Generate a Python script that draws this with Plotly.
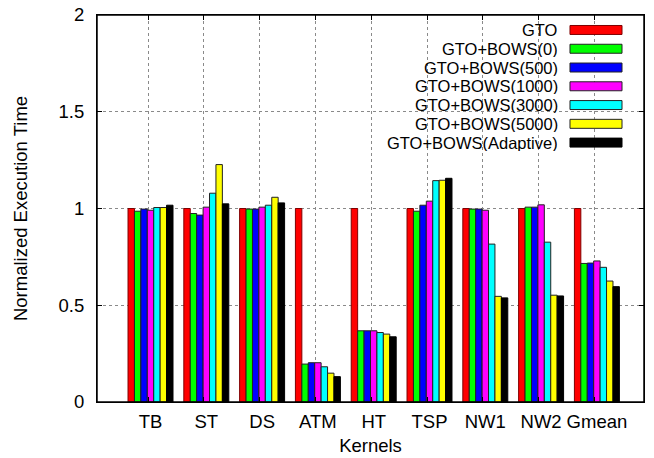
import plotly.graph_objects as go

# Datos
kernels = ['TB', 'ST', 'DS', 'ATM', 'HT', 'TSP', 'NW1', 'NW2', 'Gmean']
series = ['GTO', 'GTO+BOWS(0)', 'GTO+BOWS(500)', 'GTO+BOWS(1000)',
          'GTO+BOWS(3000)', 'GTO+BOWS(5000)', 'GTO+BOWS(Adaptive)']

gto = [1.0, 1.0, 1.0, 1.0, 1.0, 1.0, 1.0, 1.0, 1.0]
bows_0 = [0.986, 0.974, 0.997, 0.196, 0.368, 0.986, 0.997, 1.007, 0.716]
bows_500 = [0.997, 0.966, 0.997, 0.203, 0.368, 1.017, 0.997, 1.007, 0.718]
bows_1000 = [0.991, 1.007, 1.007, 0.203, 0.368, 1.038, 0.991, 1.019, 0.729]
bows_3000 = [1.005, 1.079, 1.017, 0.182, 0.359, 1.144, 0.816, 0.826, 0.696]
bows_5000 = [1.005, 1.227, 1.058, 0.149, 0.351, 1.146, 0.546, 0.552, 0.625]
bows_adapt = [1.017, 1.024, 1.029, 0.131, 0.337, 1.156, 0.538, 0.548, 0.596]

valores = [gto, bows_0, bows_500, bows_1000, bows_3000, bows_5000, bows_adapt]
colores = ['#ff0000', '#00ff00', '#0000ff', '#ff00ff', '#00ffff', '#ffff00', '#000000']
bordes = ['#7f0000', '#222222', '#222222', '#222222', '#222222', '#222222', '#000000']

FUENTE = 'Liberation Sans, Arial, sans-serif'
TAM = 18.5

fig = go.Figure()

x_pos = list(range(len(kernels)))
for nombre, vals, color, borde in zip(series, valores, colores, bordes):
    fig.add_trace(go.Bar(
        x=x_pos,
        y=vals,
        name=nombre,
        marker=dict(color=color, line=dict(color=borde, width=1)),
        showlegend=False
    ))

# Leyenda manual (texto a la izquierda, muestra a la derecha, como gnuplot)
x_txt = 0.8446
x0_sw, x1_sw = 0.8647, 0.9598
y_top = 0.9613
paso = 0.0485
alto = 0.0232

shapes = [
    dict(type='rect', xref='paper', yref='paper',
         x0=0.477, x1=0.983, y0=0.6465, y1=0.987,
         fillcolor='white', line=dict(width=0), layer='between'),
    # marco completo del área de dibujo
    dict(type='rect', xref='paper', yref='paper', x0=0, x1=1, y0=0, y1=1,
         line=dict(color='black', width=1.5), layer='above'),
]
anots = []
for k, (nombre, color, borde) in enumerate(zip(series, colores, bordes)):
    yc = y_top - k * paso
    shapes.append(dict(type='rect', xref='paper', yref='paper',
                       x0=x0_sw, x1=x1_sw, y0=yc - alto / 2, y1=yc + alto / 2,
                       fillcolor=color, line=dict(color=borde, width=1), layer='above'))
    anots.append(dict(x=x_txt, y=yc, xref='paper', yref='paper', text=nombre,
                      showarrow=False, xanchor='right', yanchor='middle',
                      height=16, valign='middle', borderpad=0,
                      font=dict(size=16.5, color='black', family=FUENTE)))

fig.update_layout(
    width=654,
    height=458,
    margin=dict(l=97, r=10, t=15, b=56),
    paper_bgcolor='white',
    plot_bgcolor='white',
    barmode='group',
    bargap=0.194,
    bargroupgap=0,
    font=dict(family=FUENTE, size=TAM, color='black'),
    shapes=shapes,
    annotations=anots,
    xaxis=dict(
        range=[-0.959, 8.844],
        automargin=False,
        tickmode='array',
        tickvals=x_pos,
        ticktext=kernels,
        ticks='',
        ticklabelstandoff=3,
        showgrid=False,
        showline=True,
        linecolor='black',
        linewidth=1,
        mirror='allticks',
        zeroline=False,
        minor=dict(tick0=-0.045, dtick=1, showgrid=True, gridcolor='#8a8a8a',
                   griddash='dot', gridwidth=1, ticks='inside', ticklen=5,
                   tickcolor='black'),
        title=dict(text='Kernels', font=dict(size=TAM), standoff=7),
        tickfont=dict(size=TAM),
    ),
    yaxis=dict(
        range=[0, 2],
        automargin=False,
        tickmode='array',
        tickvals=[0, 0.5, 1, 1.5, 2],
        ticktext=['0', '0.5', '1', '1.5', '2'],
        ticks='inside',
        ticklen=5,
        tickcolor='black',
        ticklabelstandoff=8,
        showgrid=True,
        gridcolor='#8a8a8a',
        griddash='dot',
        gridwidth=1,
        showline=True,
        linecolor='black',
        linewidth=1,
        mirror='allticks',
        zeroline=False,
        title=dict(text='Normalized Execution Time', font=dict(size=TAM), standoff=26),
        tickfont=dict(size=TAM),
    ),
)

# quitar el margen por defecto del body para que la figura ocupe toda la ventana
fig.write_html('out.html',
               config={'displayModeBar': False},
               post_script="document.body.style.margin='0';document.body.style.overflow='hidden';")
